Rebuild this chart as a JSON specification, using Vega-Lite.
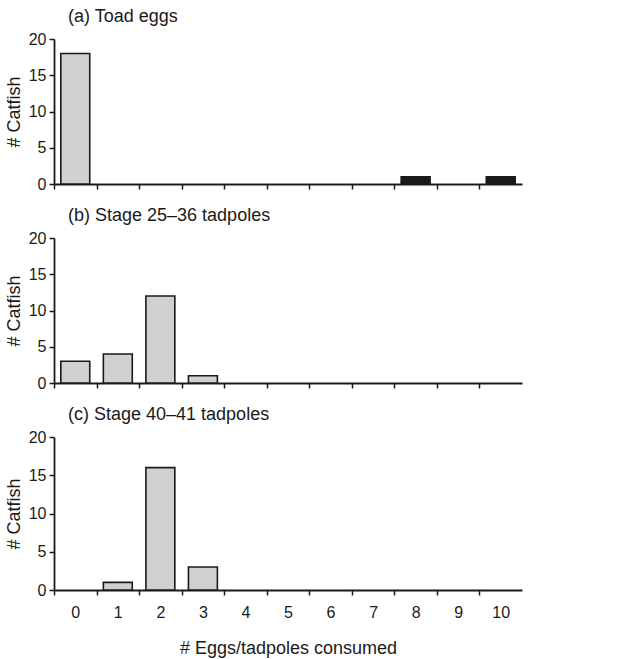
{
  "$schema": "https://vega.github.io/schema/vega-lite/v6.json",
  "padding": {"left": 5, "top": 8, "right": 5, "bottom": 2},
  "config": {
    "font": "Liberation Sans",
    "view": {"stroke": null},
    "concat": {"spacing": 15},
    "title": {"fontSize": 18, "fontWeight": "normal", "anchor": "start", "frame": "group", "color": "#1a1a1a", "offset": 5, "dx": 14},
    "axis": {
      "domainColor": "#1a1a1a", "domainWidth": 1.8, "tickColor": "#1a1a1a", "tickWidth": 1.5, "tickSize": 5,
      "labelFont": "Liberation Sans", "labelFontSize": 16, "labelColor": "#1a1a1a",
      "titleFont": "Liberation Sans", "titleFontSize": 18, "titleFontWeight": "normal", "titleColor": "#1a1a1a",
      "grid": false
    },
    "bar": {"stroke": "#1a1a1a", "strokeWidth": 1.6}
  },
  "datasets": {
    "a": [{"n": 0, "count": 18}, {"n": 8, "count": 1}, {"n": 10, "count": 1}],
    "b": [{"n": 0, "count": 3}, {"n": 1, "count": 4}, {"n": 2, "count": 12}, {"n": 3, "count": 1}],
    "c": [{"n": 1, "count": 1}, {"n": 2, "count": 16}, {"n": 3, "count": 3}]
  },
  "vconcat": [
    {
      "title": "(a) Toad eggs",
      "width": 468, "height": 145,
      "data": {"name": "a"},
      "mark": "bar",
      "encoding": {
        "x": {"field": "n", "type": "ordinal",
          "scale": {"domain": [0,1,2,3,4,5,6,7,8,9,10], "paddingInner": 0.32, "paddingOuter": 0.16},
          "axis": {"labels": false, "title": null, "bandPosition": 0.5, "tickOffset": -21.27}},
        "y": {"field": "count", "type": "quantitative", "scale": {"domain": [0, 20]},
          "axis": {"values": [0,5,10,15,20], "title": "# Catfish", "labelPadding": 3, "titlePadding": 5}},
        "color": {"condition": {"test": "datum.n >= 8", "value": "#1a1a1a"}, "value": "#d0d0d0"}
      }
    },
    {
      "title": "(b) Stage 25–36 tadpoles",
      "width": 468, "height": 145,
      "data": {"name": "b"},
      "mark": "bar",
      "encoding": {
        "x": {"field": "n", "type": "ordinal",
          "scale": {"domain": [0,1,2,3,4,5,6,7,8,9,10], "paddingInner": 0.32, "paddingOuter": 0.16},
          "axis": {"labels": false, "title": null, "bandPosition": 0.5, "tickOffset": -21.27}},
        "y": {"field": "count", "type": "quantitative", "scale": {"domain": [0, 20]},
          "axis": {"values": [0,5,10,15,20], "title": "# Catfish", "labelPadding": 3, "titlePadding": 5}},
        "color": {"value": "#d0d0d0"}
      }
    },
    {
      "title": "(c) Stage 40–41 tadpoles",
      "width": 468, "height": 153,
      "data": {"name": "c"},
      "mark": "bar",
      "encoding": {
        "x": {"field": "n", "type": "ordinal",
          "scale": {"domain": [0,1,2,3,4,5,6,7,8,9,10], "paddingInner": 0.32, "paddingOuter": 0.16},
          "axis": {"labelAngle": 0, "title": "# Eggs/tadpoles consumed", "bandPosition": 0.5, "tickOffset": -21.27, "labelOffset": 21.27, "labelPadding": 9, "titlePadding": 19}},
        "y": {"field": "count", "type": "quantitative", "scale": {"domain": [0, 20]},
          "axis": {"values": [0,5,10,15,20], "title": "# Catfish", "labelPadding": 3, "titlePadding": 5}},
        "color": {"value": "#d0d0d0"}
      }
    }
  ]
}
